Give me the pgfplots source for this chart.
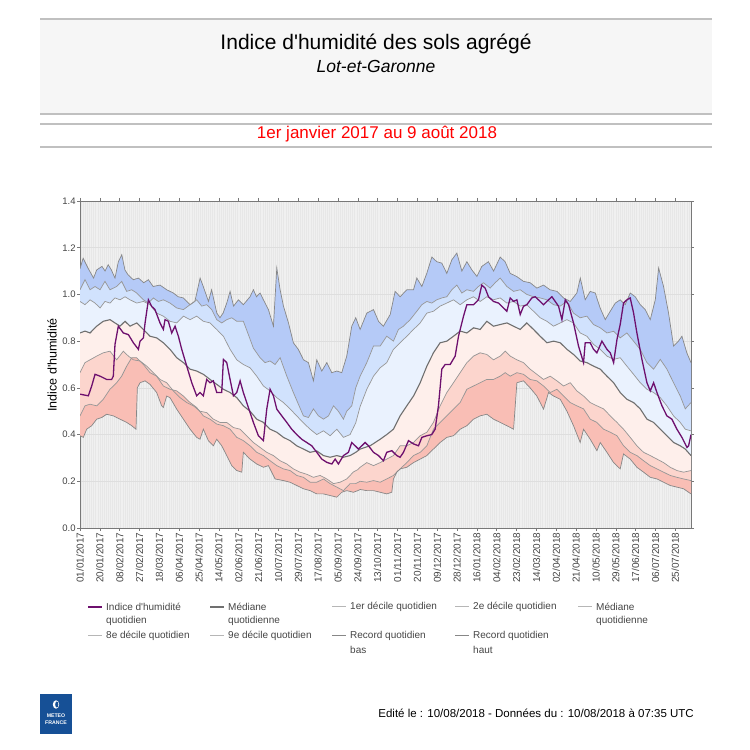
\documentclass[border=0pt]{standalone}
\usepackage{fontspec}
\setmainfont{Liberation Sans}
\usepackage{pgfplots}
\pgfplotsset{compat=1.18}
\usepackage{pgfplotstable}
\usepgfplotslibrary{fillbetween}

\definecolor{bandA}{RGB}{181,202,247}
\definecolor{bandB}{RGB}{209,226,253}
\definecolor{bandC}{RGB}{234,242,254}
\definecolor{bandD}{RGB}{254,239,235}
\definecolor{bandE}{RGB}{252,213,205}
\definecolor{bandF}{RGB}{249,190,181}
\definecolor{plotbg}{RGB}{240,240,240}
\definecolor{stripe}{RGB}{231,231,231}
\definecolor{hgrid}{RGB}{222,222,222}
\definecolor{purpleline}{RGB}{110,16,110}
\definecolor{medline}{RGB}{112,112,112}
\definecolor{decline}{RGB}{150,150,150}
\definecolor{recline}{RGB}{135,135,135}
\definecolor{ticktext}{RGB}{68,68,68}
\definecolor{axisgray}{RGB}{120,120,120}
\definecolor{hdrbg}{RGB}{246,246,246}
\definecolor{hdrline}{RGB}{192,192,192}
\definecolor{logoblue}{RGB}{22,80,150}

% Record quotidien haut
\pgfplotstableread{
x y
0 1.11
3 1.155
8 1.11
13 1.07
16 1.105
21 1.12
24 1.10
27 1.127
30 1.105
33.5 1.07
36.7 1.14
40 1.17
43 1.105
46 1.084
51 1.063
56 1.07
61 1.05
65.5 1.063
70 1.034
76.6 1.04
83 1.02
89.4 1.006
94 0.99
99 0.985
105.4 0.956
110 0.97
115 1.07
118 1.034
123 0.97
126 1.02
131 0.92
134 0.90
137 0.92
140.5 0.963
143.7 1.013
147 0.95
151.7 0.977
156.4 0.956
162.8 0.99
166 1.02
169 0.99
172.4 1.006
175.6 0.977
180.4 0.935
185.2 0.864
188.4 1.113
191.6 1.02
194.8 0.95
199.6 0.878
204.3 0.793
209 0.765
214 0.72
218.7 0.708
223.5 0.63
226.7 0.72
231.5 0.672
236.3 0.708
241 0.665
246 0.672
250.6 0.665
255.4 0.736
260.2 0.864
264 0.90
268.2 0.85
274.6 0.92
281 0.935
285.8 0.885
290.5 0.864
297 0.914
301.7 1.013
306.5 0.99
312.9 1.02
319.3 1.02
322.5 1.07
327.3 1.034
332 1.09
336.9 1.16
341.6 1.14
346.4 1.134
351.2 1.09
356 1.148
360.8 1.177
365.6 1.10
370.4 1.14
375.2 1.105
380 1.077
384.7 1.12
391 1.14
396 1.10
402.3 1.16
407 1.14
411.9 1.09
418 1.077
424.6 1.056
431 1.05
437.4 1.027
443.8 1.04
450 1.02
456.6 1.013
463 0.985
469.4 0.97
475.7 1.006
479 1.07
483.7 0.977
488.5 1.013
493.3 1.006
498 0.942
502.9 0.892
507.7 0.928
512.5 0.963
517.2 0.977
522 0.956
526.8 1.006
531.6 0.99
536.4 0.956
541.2 0.935
546 0.892
550.8 0.977
554 1.113
558.7 1.034
563.5 0.92
568.3 0.779
573 0.80
576.3 0.821
581 0.75
585 0.708
}\rh

% 9e decile
\pgfplotstableread{
x y
0 1.02
4.8 1.063
9.6 1.02
14.4 1.034
19.2 1.02
23.9 1.056
28.7 1.02
35.1 1.034
39.9 1.056
44.7 1.013
49.5 1.02
54.3 1.006
60.7 0.977
65.5 0.963
70.2 0.985
75 0.97
79.8 0.977
86.2 0.963
92.6 0.942
99 0.935
105.4 0.956
111.7 0.977
116.5 0.95
121.3 0.956
126.1 0.935
130.9 0.892
135.7 0.878
140.5 0.892
145.3 0.90
150.1 0.885
156.4 0.885
161.2 0.828
166 0.77
172.4 0.729
177.2 0.708
182 0.715
186.8 0.70
191.6 0.729
198 0.65
204.3 0.58
209.1 0.53
213.9 0.48
218.7 0.473
223.5 0.51
228.3 0.48
233.1 0.466
237.9 0.48
242.7 0.523
247.4 0.50
252.2 0.466
255.4 0.50
260.2 0.523
264 0.60
268.2 0.65
274.6 0.708
281 0.779
287.4 0.779
293.7 0.821
300.1 0.80
304.9 0.85
309.7 0.864
316.1 0.892
322.5 0.928
327.3 0.956
332.1 0.97
336.8 0.963
341.6 0.977
346.4 0.985
351.2 0.99
356 1.02
360.8 1.04
365.6 1.006
370.4 1.02
376.8 1.013
381.5 1.034
386.3 1.05
392.7 1.027
397.5 1.05
402.3 1.07
408.7 1.034
415.1 1.013
421.5 1.02
427.8 1.0
434.2 0.99
440.6 0.985
447 0.977
453.4 0.956
459.8 0.95
466.2 0.97
472.5 0.92
478.9 0.90
485.3 0.907
491.7 0.871
498.1 0.857
504.5 0.835
510.9 0.842
517.2 0.814
523.6 0.835
530 0.80
536.4 0.764
542.8 0.708
549.2 0.68
555.6 0.722
561.9 0.68
568.3 0.622
574.7 0.565
579.5 0.51
585 0.537
}\dnine

% 8e decile
\pgfplotstableread{
x y
0 0.97
4.8 0.956
9.6 0.977
14.4 0.963
19.2 0.942
23.9 0.97
28.7 0.963
33.5 0.985
38.3 0.977
43.1 0.99
47.9 0.977
54.3 0.963
60.7 0.97
67 0.956
73.4 0.92
79.8 0.907
86.2 0.885
92.6 0.878
99 0.907
105.4 0.892
111.7 0.907
118.1 0.885
124.5 0.878
130.9 0.85
137.3 0.821
143.7 0.765
150.1 0.72
156.4 0.70
162.8 0.686
169.2 0.65
175.6 0.608
182 0.587
188.4 0.558
194.8 0.537
201.1 0.51
207.5 0.48
213.9 0.45
220.3 0.423
226.7 0.40
233.1 0.416
239.5 0.395
245.9 0.423
252.2 0.388
258.6 0.40
264 0.45
268.2 0.52
274.6 0.594
281 0.65
287.4 0.686
293.7 0.708
300.1 0.765
306.5 0.793
312.9 0.821
319.3 0.85
325.7 0.878
332.1 0.92
338.4 0.928
344.8 0.95
351.2 0.963
357.6 0.977
364 0.956
370.4 0.977
376.8 0.99
383.1 0.97
389.5 0.99
395.9 0.977
402.3 0.985
408.7 0.963
415.1 0.97
421.5 0.95
427.8 0.956
434.2 0.928
440.6 0.90
447 0.885
453.4 0.864
459.8 0.878
466.2 0.892
472.5 0.878
478.9 0.835
485.3 0.821
491.7 0.786
498.1 0.765
504.5 0.736
510.9 0.722
517.2 0.729
523.6 0.693
530 0.658
536.4 0.622
542.8 0.594
549.2 0.58
555.6 0.558
561.9 0.523
568.3 0.48
574.7 0.452
579.5 0.423
585 0.416
}\deight

% Mediane quotidienne
\pgfplotstableread{
x y
0 0.835
4.8 0.843
9.6 0.835
16 0.864
22.3 0.885
28.7 0.892
33.5 0.878
38.3 0.864
43.1 0.885
47.9 0.864
54.3 0.878
60.7 0.85
67 0.821
73.4 0.814
79.8 0.793
86.2 0.765
92.6 0.729
99 0.708
105.4 0.68
111.7 0.672
118.1 0.658
124.5 0.636
130.9 0.615
137.3 0.594
143.7 0.58
150.1 0.558
156.4 0.523
162.8 0.50
169.2 0.466
175.6 0.452
182 0.423
188.4 0.41
194.8 0.388
201.1 0.374
207.5 0.352
213.9 0.338
220.3 0.324
226.7 0.33
233.1 0.31
239.5 0.303
245.9 0.31
252.2 0.303
258.6 0.31
264 0.324
268.2 0.338
277.8 0.352
287.4 0.38
293.7 0.40
300.1 0.423
306.5 0.48
312.9 0.523
319.3 0.565
325.7 0.622
332.1 0.693
338.4 0.75
344.8 0.793
351.2 0.80
357.6 0.821
364 0.843
370.4 0.835
376.8 0.857
383.1 0.85
389.5 0.885
395.9 0.864
402.3 0.871
408.7 0.878
415.1 0.864
421.5 0.85
427.8 0.878
434.2 0.85
440.6 0.821
447 0.793
453.4 0.80
459.8 0.793
466.2 0.765
472.5 0.743
478.9 0.715
485.3 0.708
491.7 0.693
498.1 0.68
504.5 0.65
510.9 0.622
517.2 0.58
523.6 0.551
530 0.537
536.4 0.51
542.8 0.466
549.2 0.452
555.6 0.423
561.9 0.395
568.3 0.366
574.7 0.352
579.5 0.338
585 0.31
}\med

% 2e decile
\pgfplotstableread{
x y
0 0.665
4.8 0.708
9.6 0.72
16 0.736
22.3 0.75
28.7 0.757
35.1 0.72
41.5 0.757
46.3 0.736
51.1 0.72
57.5 0.715
63.9 0.693
70.2 0.665
76.6 0.636
83 0.622
89.4 0.587
95.8 0.558
102.2 0.537
108.6 0.523
114.9 0.50
121.3 0.494
127.7 0.466
134.1 0.452
140.5 0.452
146.9 0.43
153.3 0.423
159.6 0.395
166 0.366
172.4 0.345
178.8 0.324
185.2 0.31
191.6 0.288
198 0.274
204.3 0.253
210.7 0.239
217.1 0.23
223.5 0.217
229.9 0.225
236.3 0.21
242.7 0.19
249 0.196
255.4 0.21
261.8 0.24
266 0.25
268.2 0.26
274.6 0.28
281 0.267
287.4 0.28
293.7 0.295
300.1 0.31
306.5 0.352
312.9 0.352
319.3 0.366
325.7 0.395
332.1 0.41
338.4 0.452
344.8 0.523
351.2 0.58
357.6 0.622
364 0.665
370.4 0.708
376.8 0.736
383.1 0.75
389.5 0.743
395.9 0.72
402.3 0.736
407.1 0.757
411.9 0.736
418.3 0.72
424.6 0.708
431 0.68
437.4 0.658
443.8 0.636
450.2 0.65
456.6 0.63
463 0.608
469.4 0.622
475.7 0.587
482.1 0.565
488.5 0.537
494.9 0.523
501.3 0.51
507.7 0.48
514.1 0.452
520.4 0.423
526.8 0.388
533.2 0.352
539.6 0.324
546 0.31
552.4 0.295
558.7 0.28
565.1 0.26
571.5 0.246
577.9 0.239
585 0.246
}\dtwo

% 1er decile
\pgfplotstableread{
x y
0 0.48
4.8 0.523
9.6 0.53
16 0.523
22.3 0.551
28.7 0.594
35.1 0.622
39.9 0.65
44.7 0.693
49.5 0.729
54.3 0.729
60.7 0.70
67 0.665
73.4 0.65
79.8 0.608
86.2 0.594
92.6 0.587
99 0.565
105.4 0.537
111.7 0.516
118.1 0.48
124.5 0.466
130.9 0.445
137.3 0.438
143.7 0.423
150.1 0.388
156.4 0.374
162.8 0.352
169.2 0.324
175.6 0.31
182 0.288
188.4 0.267
194.8 0.253
201.1 0.246
207.5 0.225
213.9 0.217
220.3 0.196
226.7 0.196
233.1 0.21
239.5 0.19
245.9 0.175
252.2 0.16
258.6 0.19
264 0.19
268.2 0.20
274.6 0.196
281 0.203
287.4 0.196
293.7 0.21
300.1 0.225
306.5 0.253
312.9 0.28
319.3 0.31
325.7 0.324
332.1 0.352
338.4 0.423
344.8 0.452
351.2 0.48
357.6 0.509
364 0.537
370.4 0.594
376.8 0.608
383.1 0.622
389.5 0.636
395.9 0.636
402.3 0.65
407.1 0.665
411.9 0.65
418.3 0.665
424.6 0.658
431 0.636
437.4 0.63
443.8 0.608
450.2 0.58
456.6 0.594
463 0.565
469.4 0.537
475.7 0.523
482.1 0.51
488.5 0.466
494.9 0.452
501.3 0.423
507.7 0.41
514.1 0.395
520.4 0.352
526.8 0.324
533.2 0.31
539.6 0.288
546 0.267
552.4 0.253
558.7 0.239
565.1 0.225
571.5 0.217
577.9 0.21
585 0.203
}\done

% Record quotidien bas
\pgfplotstableread{
x y
0 0.395
3.2 0.388
6.4 0.423
11.2 0.438
16 0.466
20.8 0.473
25.5 0.487
31.9 0.48
38.3 0.466
44.7 0.452
49.5 0.438
53.6 0.423
54.9 0.60
57.5 0.622
62.3 0.63
67 0.615
73.4 0.58
78.2 0.523
79.8 0.516
83 0.565
86.2 0.558
92.6 0.509
99 0.466
105.4 0.423
111.7 0.388
114.9 0.38
118.1 0.423
122.9 0.374
127.7 0.352
130.9 0.38
135.7 0.352
140.5 0.31
145.3 0.267
150.1 0.246
154.9 0.239
156.4 0.324
162.8 0.295
169.2 0.274
175.6 0.26
180.4 0.267
186.8 0.21
194.8 0.203
201.1 0.196
207.5 0.182
213.9 0.168
220.3 0.16
226.7 0.146
233.1 0.146
239.5 0.139
245.9 0.132
250.6 0.153
255.4 0.16
261.8 0.153
266 0.16
268.2 0.165
274.6 0.16
281 0.16
287.4 0.153
293.7 0.146
298.5 0.153
300.1 0.21
303.3 0.239
306.5 0.253
312.9 0.26
319.3 0.28
325.7 0.295
332.1 0.31
338.4 0.338
344.8 0.366
351.2 0.388
357.6 0.395
364 0.423
370.4 0.438
376.8 0.466
383.1 0.48
389.5 0.487
395.9 0.466
402.3 0.452
408.7 0.438
415.1 0.423
418.3 0.622
424.6 0.63
431 0.60
437.4 0.565
443.8 0.509
448.6 0.58
453.4 0.565
459.8 0.551
466.2 0.50
472.5 0.438
478.9 0.366
482.1 0.423
488.5 0.38
494.9 0.331
498.1 0.366
504.5 0.324
510.9 0.28
517.2 0.253
520.4 0.317
526.8 0.295
533.2 0.26
539.6 0.239
546 0.217
552.4 0.21
558.7 0.196
565.1 0.182
571.5 0.175
577.9 0.168
585 0.146
}\rb

% Indice d'humidite quotidien
\pgfplotstableread{
x y
0 0.573
8 0.566
11.2 0.608
14.4 0.658
19.2 0.65
25.5 0.636
30.3 0.636
31.9 0.65
33.5 0.786
36.7 0.864
41.5 0.835
46.3 0.828
51.1 0.793
55.9 0.765
57.5 0.80
60.7 0.814
62.3 0.878
65.5 0.977
68.6 0.949
71.8 0.935
76.6 0.878
79.8 0.85
81.4 0.892
84.6 0.885
87.8 0.835
91 0.864
94.2 0.821
97.4 0.765
102.2 0.693
107 0.622
111.7 0.566
114.9 0.58
118.1 0.566
121.3 0.636
124.5 0.622
127.7 0.63
130.9 0.58
135.7 0.58
137.3 0.722
140.5 0.708
143.7 0.636
146.9 0.566
150.1 0.58
153.3 0.63
156.4 0.58
161.2 0.516
166 0.452
170.8 0.395
175.6 0.374
178.8 0.509
182 0.594
185.2 0.566
188.4 0.509
193.2 0.48
198 0.452
202.7 0.423
207.5 0.40
212.3 0.38
217.1 0.366
221.9 0.352
226.7 0.324
231.5 0.295
236.3 0.281
241.1 0.274
244.3 0.295
247.4 0.274
252.2 0.31
257 0.324
260.2 0.366
263.4 0.352
266.6 0.338
273 0.366
276.2 0.352
281 0.324
285.8 0.31
290.5 0.288
293.7 0.324
298.5 0.331
303.3 0.31
306.5 0.303
309.7 0.324
314.5 0.374
319.3 0.36
324.1 0.352
327.3 0.388
332.1 0.395
336.8 0.40
340 0.423
343.2 0.523
346.4 0.68
349.6 0.70
354.4 0.70
359.2 0.736
362.4 0.821
367.2 0.907
370.4 0.956
376.8 0.956
381.5 0.977
384.7 1.04
387.9 1.027
391.1 0.99
395.9 0.97
400.7 0.963
405.5 0.942
408.7 0.928
411.9 0.985
415.1 0.97
418.3 0.977
421.5 0.914
424.6 0.949
427.8 0.956
432.6 0.985
435.8 0.99
440.6 0.97
443.8 0.956
448.6 0.977
451.8 0.99
455 0.97
458.2 0.949
461.4 0.892
464.6 0.977
467.8 0.956
472.5 0.878
477.3 0.779
482.1 0.708
483.7 0.793
488.5 0.793
491.7 0.765
494.9 0.75
499.7 0.80
504.5 0.765
507.7 0.75
510.9 0.708
514.1 0.807
517.2 0.871
520.4 0.963
523.6 0.977
526.8 0.985
530 0.921
533.2 0.835
538 0.722
542.8 0.622
546 0.587
549.2 0.622
552.4 0.58
557.2 0.523
561.9 0.48
566.7 0.466
571.5 0.423
576.3 0.388
581.1 0.345
582.7 0.352
585 0.40
}\idx

\begin{document}
\begin{tikzpicture}[x=1pt,y=1pt]
\path (0,0) rectangle (750,750);
% header
\fill[hdrbg] (40,636) rectangle (712,731);
\draw[hdrline, line width=1.5pt] (40,731) -- (712,731);
\draw[hdrline, line width=1.5pt] (40,636) -- (712,636);
\draw[hdrline, line width=1.5pt] (40,626) -- (712,626);
\draw[hdrline, line width=1.5pt] (40,603) -- (712,603);
\node[font=\fontsize{21}{24}\selectfont] at (376,706) {Indice d\textquotesingle humidité des sols agrégé};
\node[font=\fontsize{17.5}{20}\selectfont\itshape] at (376,684) {Lot-et-Garonne};
\node[font=\fontsize{17}{20}\selectfont, text=red] at (377,616) {1er janvier 2017 au 9 août 2018};
% y label
\node[rotate=90, font=\fontsize{12.5}{14}\selectfont] at (52,385) {Indice d\textquotesingle humidité};

\begin{axis}[
  at={(80pt,222pt)}, anchor=south west,
  width=611pt, height=327pt, scale only axis,
  xmin=0, xmax=585, ymin=0, ymax=1.4,
  axis background/.style={fill=plotbg},
  ytick={0,0.2,0.4,0.6,0.8,1.0,1.2,1.4},
  xtick={0,19,...,570},
  xticklabels={01/01/2017,20/01/2017,08/02/2017,27/02/2017,18/03/2017,06/04/2017,25/04/2017,14/05/2017,02/06/2017,21/06/2017,10/07/2017,29/07/2017,17/08/2017,05/09/2017,24/09/2017,13/10/2017,01/11/2017,20/11/2017,09/12/2017,28/12/2017,16/01/2018,04/02/2018,23/02/2018,14/03/2018,02/04/2018,21/04/2018,10/05/2018,29/05/2018,17/06/2018,06/07/2018,25/07/2018},
  minor xtick={1,3,...,585},
  xminorgrids, ymajorgrids,
  minor grid style={draw=stripe, line width=0.5pt},
  major grid style={draw=hgrid, line width=0.7pt},
  minor tick length=0pt,
  major tick length=3pt,
  tick align=outside,
  tick style={draw=axisgray, line width=0.6pt},
  axis line style={draw=axisgray, line width=0.8pt},
  /pgf/number format/assume math mode=true,
  x tick label style={rotate=90, anchor=east, inner sep=1.5pt, font=\fontsize{10}{12}\selectfont, text=ticktext},
  y tick label style={inner sep=1.2pt, font=\fontsize{9.5}{11}\selectfont, text=ticktext, /pgf/number format/.cd, fixed, fixed zerofill, precision=1},
  no markers,
]
\addplot[draw=none, name path=rh] table {\rh};
\addplot[draw=none, name path=d9] table {\dnine};
\addplot[draw=none, name path=d8] table {\deight};
\addplot[draw=none, name path=md] table {\med};
\addplot[draw=none, name path=d2] table {\dtwo};
\addplot[draw=none, name path=d1] table {\done};
\addplot[draw=none, name path=rb] table {\rb};

\addplot[fill=bandA, draw=none] fill between[of=rh and d9];
\addplot[fill=bandB, draw=none] fill between[of=d9 and d8];
\addplot[fill=bandC, draw=none] fill between[of=d8 and md];
\addplot[fill=bandD, draw=none] fill between[of=md and d2];
\addplot[fill=bandE, draw=none] fill between[of=d2 and d1];
\addplot[fill=bandF, draw=none] fill between[of=d1 and rb];

\addplot[draw=recline, line width=0.7pt] table {\rh};
\addplot[draw=decline, line width=0.7pt] table {\dnine};
\addplot[draw=decline, line width=0.7pt] table {\deight};
\addplot[draw=decline, line width=0.7pt] table {\dtwo};
\addplot[draw=decline, line width=0.7pt] table {\done};
\addplot[draw=recline, line width=0.7pt] table {\rb};
\addplot[draw=medline, line width=1.1pt] table {\med};
\addplot[draw=purpleline, line width=1.3pt] table {\idx};
\end{axis}

% legend
\begin{scope}[every node/.style={anchor=west, font=\fontsize{10}{12}\selectfont, text=ticktext, inner sep=0pt}]
\draw[purpleline, line width=1.5pt] (88,143) -- (102,143);
\node at (106,143) {Indice d\textquotesingle humidité};
\node at (106,129) {quotidien};
\draw[medline, line width=1.2pt] (210,143) -- (224,143);
\node at (228,143) {Médiane};
\node at (228,129) {quotidienne};
\draw[decline!70!white, line width=1pt] (332,143) -- (346,143);
\node at (350,143) {1er décile quotidien};
\draw[decline!70!white, line width=1pt] (455,143) -- (469,143);
\node at (473,143) {2e décile quotidien};
\draw[decline!70!white, line width=1pt] (578,143) -- (592,143);
\node at (596,143) {Médiane};
\node at (596,129) {quotidienne};
\draw[decline!70!white, line width=1pt] (88,114) -- (102,114);
\node at (106,114) {8e décile quotidien};
\draw[decline!70!white, line width=1pt] (210,114) -- (224,114);
\node at (228,114) {9e décile quotidien};
\draw[recline, line width=1pt] (332,114) -- (346,114);
\node at (350,114) {Record quotidien};
\node at (350,100) {bas};
\draw[recline, line width=1pt] (455,114) -- (469,114);
\node at (473,114) {Record quotidien};
\node at (473,100) {haut};
\end{scope}

% footer
\fill[logoblue] (40,16) rectangle (72,56);
\fill[white] (56,45.5) ellipse (3.2 and 4.2);
\fill[logoblue] (56.8,45.5) ellipse (1.6 and 3);
\node[text=white, font=\fontsize{5.2}{6}\selectfont\bfseries, inner sep=0pt] at (56,34) {METEO};
\node[text=white, font=\fontsize{5.2}{6}\selectfont\bfseries, inner sep=0pt] at (56,27.5) {FRANCE};
\node[anchor=east, font=\fontsize{11.5}{13}\selectfont, inner sep=0pt] at (694,37) {Edité le : 10/08/2018 - Données du : 10/08/2018 à 07:35 UTC};
\end{tikzpicture}
\end{document}
